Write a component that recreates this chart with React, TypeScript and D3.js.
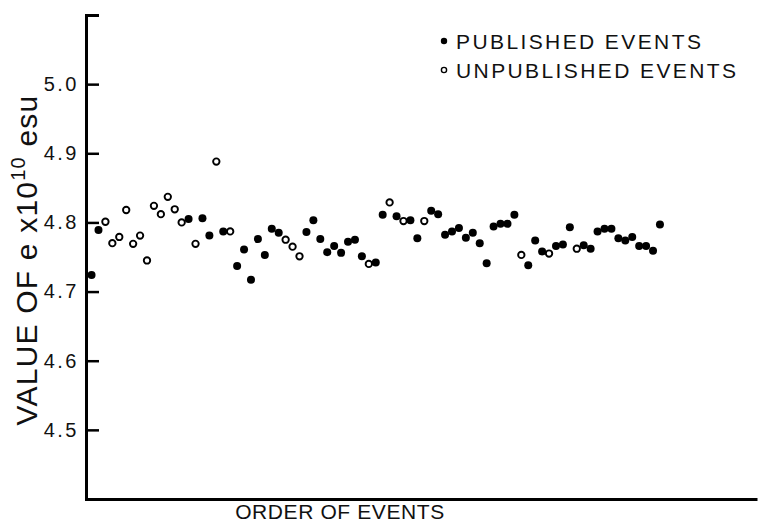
import React, { useEffect, useRef } from 'react';
import * as d3 from 'd3';

// order of events 1..83, value of e (x10^10 esu), published or not
const values = [
  4.724, 4.789, 4.801, 4.770, 4.779, 4.818, 4.769, 4.781, 4.745, 4.824,
  4.812, 4.837, 4.819, 4.800, 4.805, 4.769, 4.806, 4.781, 4.888, 4.787,
  4.787, 4.737, 4.761, 4.717, 4.776, 4.753, 4.791, 4.785, 4.775, 4.765,
  4.751, 4.786, 4.803, 4.776, 4.757, 4.766, 4.756, 4.772, 4.775, 4.751,
  4.740, 4.742, 4.811, 4.829, 4.809, 4.802, 4.803, 4.777, 4.802, 4.817,
  4.812, 4.782, 4.787, 4.792, 4.778, 4.785, 4.770, 4.741, 4.794, 4.798,
  4.798, 4.811, 4.753, 4.738, 4.774, 4.758, 4.755, 4.766, 4.768, 4.793,
  4.762, 4.767, 4.762, 4.787, 4.791, 4.791, 4.777, 4.774, 4.779, 4.766,
  4.766, 4.759, 4.797,
];
// 1 = published (filled), 0 = unpublished (open)
const published = [
  1, 1, 0, 0, 0, 0, 0, 0, 0, 0,
  0, 0, 0, 0, 1, 0, 1, 1, 0, 1,
  0, 1, 1, 1, 1, 1, 1, 1, 0, 0,
  0, 1, 1, 1, 1, 1, 1, 1, 1, 1,
  0, 1, 1, 0, 1, 0, 1, 1, 0, 1,
  1, 1, 1, 1, 1, 1, 1, 1, 1, 1,
  1, 1, 0, 1, 1, 1, 0, 1, 1, 1,
  0, 1, 1, 1, 1, 1, 1, 1, 1, 1,
  1, 1, 1,
];
const yTicks = [4.5, 4.6, 4.7, 4.8, 4.9, 5.0];
const legendItems = ['PUBLISHED EVENTS', 'UNPUBLISHED EVENTS'];

const width = 760;
const height = 529;

export default function App() {
  const svgRef = useRef<SVGSVGElement>(null);

  useEffect(() => {
    const svg = d3.select(svgRef.current);
    svg.selectAll('*').remove();

    const font = '"Liberation Sans", Arial, sans-serif';
    const x = d3.scaleLinear().domain([0.2, 97]).range([86, 757]);
    const y = d3.scaleLinear().domain([4.4, 5.1]).range([499, 15]);

    // left axis, ticks pointing inward
    const yAxis = d3
      .axisLeft(y)
      .tickValues(yTicks)
      .tickSizeInner(-13)
      .tickSizeOuter(-13)
      .tickPadding(7)
      .tickFormat(d3.format('.1f'));

    const gy = svg.append('g').attr('transform', `translate(${x(0.2)},0)`).call(yAxis);
    gy.select('.domain').attr('stroke', '#000').attr('stroke-width', 3).attr('fill', 'none');
    gy.selectAll('.tick line').attr('stroke', '#000').attr('stroke-width', 2.5);
    gy.selectAll('.tick text')
      .attr('font-family', font)
      .attr('font-size', 20)
      .attr('letter-spacing', 2.5)
      .attr('fill', '#111');

    // bottom axis, no ticks
    const xAxis = d3.axisBottom(x).tickValues([]).tickSizeOuter(0);
    const gx = svg.append('g').attr('transform', `translate(0,${y(4.4)})`).call(xAxis);
    gx.select('.domain').attr('stroke', '#000').attr('stroke-width', 3);

    const idx = values.map((_, i) => i);

    svg
      .append('g')
      .selectAll('circle')
      .data(idx)
      .join('circle')
      .attr('cx', (i) => x(i + 1))
      .attr('cy', (i) => y(values[i]))
      .attr('r', (i) => (published[i] ? 4 : 3.2))
      .attr('fill', (i) => (published[i] ? '#000' : '#fff'))
      .attr('stroke', '#000')
      .attr('stroke-width', (i) => (published[i] ? 0 : 1.9));

    // legend
    const legend = svg.append('g');
    legendItems.forEach((label, k) => {
      const ly = 41 + k * 29;
      legend
        .append('circle')
        .attr('cx', 444)
        .attr('cy', ly)
        .attr('r', k === 0 ? 3.2 : 2.6)
        .attr('fill', k === 0 ? '#000' : '#fff')
        .attr('stroke', '#000')
        .attr('stroke-width', k === 0 ? 0 : 1.4);
      legend
        .append('text')
        .attr('x', 456)
        .attr('y', ly + 7.5)
        .attr('font-family', font)
        .attr('font-size', 21)
        .attr('letter-spacing', 2.4)
        .attr('fill', '#111')
        .text(label);
    });

    // axis titles
    svg
      .append('text')
      .attr('x', 340)
      .attr('y', 519)
      .attr('text-anchor', 'middle')
      .attr('font-family', font)
      .attr('font-size', 21)
      .attr('letter-spacing', 0.6)
      .attr('fill', '#111')
      .text('ORDER OF EVENTS');

    const yt = svg
      .append('text')
      .attr('transform', 'translate(37,260) rotate(-90)')
      .attr('text-anchor', 'middle')
      .attr('font-family', font)
      .attr('font-size', 30)
      .attr('letter-spacing', 1.2)
      .attr('fill', '#111');
    yt.append('tspan').text('VALUE OF e x10');
    yt.append('tspan').attr('font-size', 20).attr('dy', -12).text('10');
    yt.append('tspan').attr('dy', 12).text(' esu');
  }, []);

  return (
    <svg
      ref={svgRef}
      width={width}
      height={height}
      style={{ position: 'absolute', left: 0, top: 0, background: '#fff' }}
    />
  );
}
